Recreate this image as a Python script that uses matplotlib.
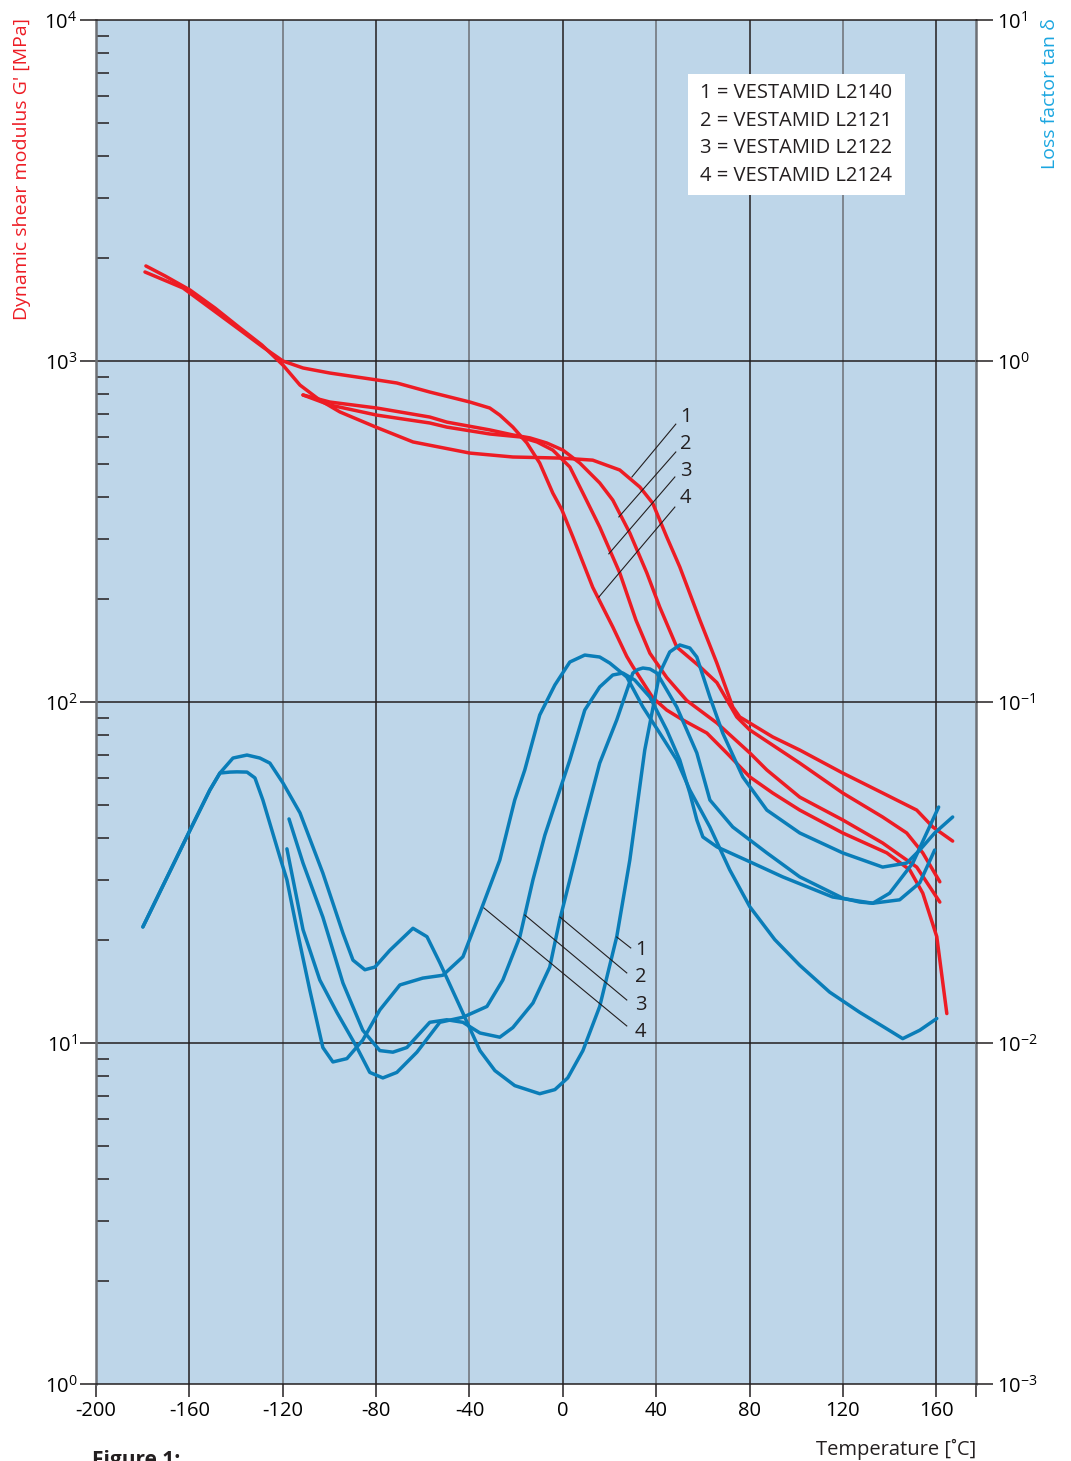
import numpy as np
import matplotlib.pyplot as plt
from matplotlib.patches import Rectangle
from matplotlib.ticker import LogLocator, NullLocator, NullFormatter

plt.rcParams['font.family'] = ['Open Sans', 'DejaVu Sans']
plt.rcParams['mathtext.fontset'] = 'custom'
plt.rcParams['mathtext.rm'] = 'Open Sans'

# ---- dynamic shear modulus G' [MPa] (red) ----
t_r1 = [-178.6, -170.4, -159.7, -149.0, -138.3, -128.9, -119.9, -112.6, -104.1, -95.5, -80.1, -64.2,
        -39.8, -21.4, 0.0, 12.8, 24.4, 33.0, 38.5, 44.5, 50.1, 58.7, 66.0, 72.8, 75.8, 89.9, 101.5,
        119.9, 137.0, 151.6, 158.5, 167.0]
g_r1 = [1900, 1776, 1615, 1430, 1250, 1114, 973, 850, 768, 709, 640, 579, 537, 523, 519, 512, 479,
        427, 383, 305, 249, 174, 130, 96.7, 90.4, 79.0, 72.3, 61.9, 54.1, 48.2, 43.0, 39.1]

t_r2 = [-111.3, -99.8, -79.7, -57.0, -49.7, -31.3, -21.4, -14.1, -6.9, 0.0, 7.3, 15.8, 21.4, 28.7,
        36.0, 41.5, 48.8, 58.7, 66.0, 74.5, 80.1, 101.5, 119.9, 137.0, 147.3, 154.2, 161.5]
g_r2 = [795, 758, 728, 685, 662, 628, 607, 595, 575, 548, 502, 439, 391, 313, 239, 190, 145, 127,
        114, 90.4, 82.8, 66.2, 54.1, 46.0, 41.3, 36.1, 29.7]

t_r3 = [-111.3, -99.8, -79.7, -57.0, -49.7, -31.3, -18.4, -11.1, -4.3, 3.0, 8.6, 15.8, 24.4, 31.3,
        37.3, 44.5, 53.1, 66.0, 80.1, 87.4, 101.5, 119.9, 137.0, 151.6, 161.5]
g_r3 = [795, 743, 694, 658, 640, 611, 599, 579, 548, 489, 410, 326, 239, 174, 139, 118, 101, 86.8,
        70.9, 63.2, 52.6, 45.1, 38.6, 32.8, 25.9]

t_r4 = [-179.0, -162.7, -149.9, -138.3, -128.5, -119.9, -111.3, -99.8, -79.7, -71.1, -57.0, -39.8,
        -31.3, -27.0, -21.4, -15.4, -9.9, -4.3, -0.4, 4.3, 12.8, 21.4, 27.4, 30.0, 38.5, 44.5, 51.4,
        61.7, 70.2, 80.1, 89.9, 101.5, 119.9, 138.8, 148.6, 154.2, 160.2, 164.5]
g_r4 = [1824, 1637, 1411, 1233, 1099, 1000, 954, 922, 880, 862, 811, 758, 728, 694, 640, 575, 502,
        410, 366, 305, 217, 166, 136, 127, 103, 94.7, 88.6, 81.1, 70.9, 60.3, 54.1, 48.2, 41.3, 36.1,
        32.2, 27.5, 20.5, 12.2]

# ---- loss factor tan delta (blue) ----
t_b1 = [-179.9, -159.7, -151.2, -146.9, -141.3, -135.3, -129.8, -125.5, -119.9, -112.6, -102.8, -94.2,
        -89.9, -84.8, -80.5, -74.1, -64.2, -58.2, -52.7, -44.1, -35.5, -29.1, -20.6, -9.9, -3.4, 2.1,
        8.6, 15.8, 23.1, 28.7, 35.1, 41.5, 45.8, 50.1, 54.4, 57.4, 63.0, 68.5, 77.1, 87.4, 101.5,
        119.9, 137.0, 147.3, 152.9, 159.3, 167.0]
d_b1 = [0.0219, 0.0421, 0.0552, 0.0619, 0.0685, 0.0699, 0.0685, 0.0662, 0.0579, 0.0473, 0.0315,
        0.0210, 0.0175, 0.0164, 0.0167, 0.0187, 0.0217, 0.0205, 0.0172, 0.0128, 0.0095, 0.0083,
        0.0075, 0.0071, 0.0073, 0.0079, 0.0095, 0.0128, 0.0205, 0.0344, 0.0723, 0.1216, 0.1402,
        0.1470, 0.1440, 0.1355, 0.1034, 0.0811, 0.0603, 0.0482, 0.0413, 0.0361, 0.0328, 0.0337,
        0.0368, 0.0413, 0.0460]

t_b2 = [-117.3, -111.3, -102.8, -94.2, -85.7, -78.4, -72.8, -66.8, -57.0, -49.7, -42.8, -35.5, -27.0,
        -21.4, -12.8, -5.6, -1.3, 3.0, 9.4, 15.8, 23.1, 30.0, 32.1, 34.3, 37.3, 40.3, 48.8, 57.4, 63.0,
        72.8, 87.4, 101.5, 119.9, 127.2, 132.8, 140.0, 149.9, 161.0]
d_b2 = [0.0454, 0.0337, 0.0234, 0.0150, 0.0109, 0.0095, 0.0094, 0.0097, 0.0115, 0.0117, 0.0115,
        0.0107, 0.0104, 0.0111, 0.0131, 0.0167, 0.0230, 0.0301, 0.0451, 0.0662, 0.0886, 0.1216,
        0.1245, 0.1258, 0.1250, 0.1216, 0.0967, 0.0709, 0.0516, 0.0430, 0.0361, 0.0307, 0.0266,
        0.0259, 0.0257, 0.0275, 0.0337, 0.0492]

t_b3 = [-118.2, -111.3, -104.1, -96.8, -88.2, -82.7, -77.1, -71.1, -62.5, -52.7, -42.8, -32.5, -25.7,
        -18.4, -12.8, -7.7, -1.3, 3.0, 9.4, 15.8, 21.4, 25.7, 30.8, 37.3, 44.5, 50.1, 54.4, 57.4,
        60.0, 66.0, 80.1, 94.2, 115.6, 132.8, 144.3, 152.9, 159.3]
d_b3 = [0.0371, 0.0215, 0.0153, 0.0123, 0.0097, 0.0082, 0.0079, 0.0082, 0.0094, 0.0115, 0.0119,
        0.0128, 0.0153, 0.0205, 0.0301, 0.0407, 0.0552, 0.0676, 0.0947, 0.1107, 0.1200, 0.1216,
        0.1160, 0.1034, 0.0828, 0.0676, 0.0541, 0.0451, 0.0402, 0.0376, 0.0340, 0.0307, 0.0268,
        0.0257, 0.0263, 0.0295, 0.0368]

t_b4 = [-179.9, -159.7, -151.2, -146.9, -142.6, -139.6, -135.3, -131.9, -128.5, -121.2, -118.2,
        -113.9, -108.4, -102.8, -98.5, -92.5, -85.7, -78.4, -69.8, -60.0, -51.4, -42.8, -35.5, -27.0,
        -20.6, -16.3, -9.9, -3.4, 3.0, 9.4, 15.8, 20.1, 27.4, 34.3, 41.5, 48.8, 54.4, 63.0, 71.5,
        80.1, 90.8, 101.5, 114.3, 127.2, 137.9, 145.6, 152.9, 160.2]
d_b4 = [0.0219, 0.0421, 0.0552, 0.0619, 0.0623, 0.0624, 0.0623, 0.0599, 0.0516, 0.0351, 0.0301,
        0.0215, 0.0143, 0.0097, 0.0088, 0.0090, 0.0102, 0.0125, 0.0148, 0.0155, 0.0158, 0.0179,
        0.0241, 0.0344, 0.0516, 0.0632, 0.0916, 0.1122, 0.1310, 0.1373, 0.1355, 0.1301, 0.1184,
        0.0967, 0.0811, 0.0676, 0.0552, 0.0430, 0.0322, 0.0251, 0.0201, 0.0169, 0.0141, 0.0123,
        0.0111, 0.0103, 0.0109, 0.0118]

# curve number labels with leader lines: (line start x, y, line end x, y)
labels_num = ['1', '2', '3', '4']
red_lab_t = [52.7, 52.7, 52.7, 52.7]
red_lab_g = [685, 571, 476, 396]
red_lead = [(48.4, 653, 29.6, 457), (48.4, 541, 24.0, 349), (48.0, 457, 19.7, 272), (48.0, 373, 15.4, 203)]
blue_lab_t = [33.4, 33.4, 33.4, 33.4]
blue_lab_d = [0.01874, 0.01562, 0.01292, 0.01077]
blue_lead = [(29.1, 0.0190, 23.1, 0.02046), (27.4, 0.01605, -1.3, 0.02342),
             (27.4, 0.01337, -16.3, 0.02374), (27.4, 0.01122, -33.8, 0.02489)]

legend_lines = ['1 = VESTAMID L2140', '2 = VESTAMID L2121', '3 = VESTAMID L2122', '4 = VESTAMID L2124']

x_ticks = [-200, -160, -120, -80, -40, 0, 40, 80, 120, 160]

RED = '#ed1c24'
BLUE = '#0a7db8'
CYAN = '#1ba6e0'
DARK = '#231f20'
GREY = '#6d7075'

fig = plt.figure(figsize=(10.71, 14.61), dpi=100)
ax = fig.add_axes([0.0896, 0.0527, 0.8217, 0.9336])
ax.set_facecolor('#bed6e9')
ax.set_xlim(-200, 177)
ax.set_yscale('log')
ax.set_ylim(1, 1e4)

# grid
for x in x_ticks[1:]:
    c = GREY if x in (-120, -40, 40, 120) else DARK
    ax.axvline(x, color=c, lw=1.1, zorder=1)
for y in [10, 100, 1000]:
    ax.axhline(y, color=DARK, lw=1.1, zorder=1)

for s in ['left', 'right']:
    ax.spines[s].set_color(GREY)
    ax.spines[s].set_linewidth(1.8)
for s in ['top', 'bottom']:
    ax.spines[s].set_color(DARK)
    ax.spines[s].set_linewidth(1.1)

ax.set_xticks(x_ticks + [177])
ax.set_xticklabels([str(v) for v in x_ticks] + [''])
ax.tick_params(axis='x', direction='out', length=9.5, width=1.1, color=DARK, labelsize=14.5, pad=3)
ax.set_yticks([1, 10, 100, 1000, 10000])
ax.set_yticklabels([r'$\mathregular{10^{%d}}$' % i for i in range(5)])
ax.yaxis.set_minor_locator(LogLocator(base=10, subs=np.arange(2, 10)))
ax.yaxis.set_minor_formatter(NullFormatter())
ax.tick_params(axis='y', which='major', direction='out', length=11.5, width=1.1, color=DARK,
               labelsize=14.5, pad=2)
ax.tick_params(axis='y', which='minor', direction='in', length=9, width=1.1, color=DARK)

ax2 = ax.twinx()
ax2.set_yscale('log')
ax2.set_ylim(1e-3, 10)
ax2.set_yticks([1e-3, 1e-2, 1e-1, 1, 10])
ax2.set_yticklabels([r'$\mathregular{10^{%d}}$' % i for i in range(-3, 2)])
ax2.yaxis.set_minor_locator(NullLocator())
ax2.tick_params(axis='y', direction='out', length=12, width=1.1, color=DARK, labelsize=14.5, pad=3)
for s in ax2.spines.values():
    s.set_visible(False)

# red curves
for t, g in [(t_r1, g_r1), (t_r2, g_r2), (t_r3, g_r3), (t_r4, g_r4)]:
    ax.plot(t, g, color=RED, lw=2.5, solid_joinstyle='round', solid_capstyle='round', zorder=3)

# blue curves
for t, d in [(t_b1, d_b1), (t_b2, d_b2), (t_b3, d_b3), (t_b4, d_b4)]:
    ax2.plot(t, d, color=BLUE, lw=2.5, solid_joinstyle='round', solid_capstyle='round', zorder=3)

# leaders + numbers
for lab, lt, lg, (x0, y0, x1, y1) in zip(labels_num, red_lab_t, red_lab_g, red_lead):
    ax.plot([x0, x1], [y0, y1], color=DARK, lw=0.8, zorder=4)
    ax.text(lt, lg, lab, fontsize=14.5, color=DARK, ha='center', va='center', zorder=5)
for lab, lt, ld, (x0, y0, x1, y1) in zip(labels_num, blue_lab_t, blue_lab_d, blue_lead):
    ax2.plot([x0, x1], [y0, y1], color=DARK, lw=0.8, zorder=4)
    ax2.text(lt, ld, lab, fontsize=14.5, color=DARK, ha='center', va='center', zorder=5)

# legend box
ax2.add_patch(Rectangle((0.6727, 0.8717), 0.2466, 0.0887, transform=ax.transAxes,
                        facecolor='white', edgecolor='none', zorder=6))
for i, line in enumerate(legend_lines):
    ax2.text(0.686, 0.9463 - i * 0.0201, line, transform=ax.transAxes, fontsize=14.5,
             color=DARK, ha='left', va='center', zorder=7)

fig.text(0.0205, 0.9877, "Dynamic shear modulus G' [MPa]", rotation=90, color=RED,
         fontsize=14, ha='center', va='top')
fig.text(0.980, 0.9877, 'Loss factor tan δ', rotation=90, color=CYAN,
         fontsize=14, ha='center', va='top')
fig.text(0.9113, 0.0082, 'Temperature [˚C]', color=DARK, fontsize=14.5, ha='right', va='center')
fig.text(0.0859, 0.0075, 'Figure 1:', color=DARK, fontsize=15, fontweight='bold', ha='left', va='top')

fig.savefig('out.png', dpi=100)
